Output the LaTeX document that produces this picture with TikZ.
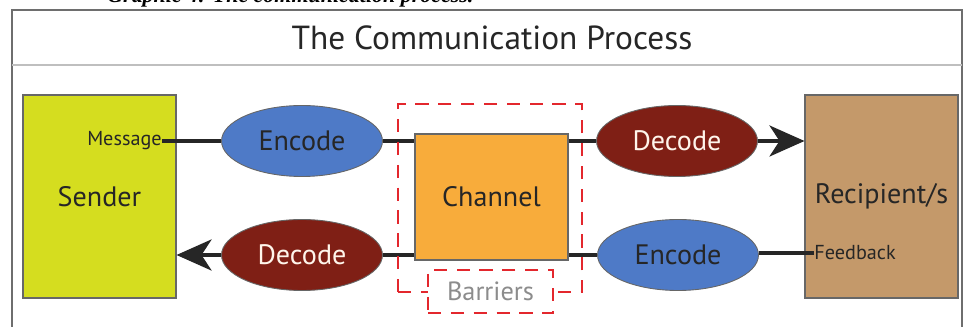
\documentclass[tikz,border=0pt]{standalone}
\usepackage{fontspec}
\setmainfont{PT Sans}
\newfontfamily\capfont{Liberation Serif}
\usepackage{tikz}
\usetikzlibrary{arrows.meta}
\usetikzlibrary{positioning}
\usetikzlibrary{shapes.geometric}
\definecolor{sendercol}{HTML}{D5DD1F}
\definecolor{recipcol}{HTML}{C4996A}
\definecolor{chancol}{HTML}{F8AC3B}
\definecolor{enccol}{HTML}{4E7AC7}
\definecolor{deccol}{HTML}{7F1F15}
\definecolor{barcol}{HTML}{E3272D}
\definecolor{inkcol}{HTML}{262626}
\definecolor{framecol}{HTML}{6E6E6E}
\tikzstyle{every node}+=[inner sep=0pt]
\tikzstyle{box} = [rectangle, draw=inkcol!70, line width=0.6pt, text=inkcol, font=\fontsize{16}{18}\selectfont, minimum width=3.06cm]
\tikzstyle{oval} = [ellipse, draw=black!60, line width=0.5pt, font=\fontsize{16}{18}\selectfont, minimum width=3.22cm, minimum height=1.42cm]
\tikzstyle{enc} = [oval, fill=enccol, text=inkcol]
\tikzstyle{dec} = [oval, fill=deccol, text=white!92!orange]
\tikzstyle{tag} = [text=inkcol, font=\fontsize{11.5}{13}\selectfont]
\tikzstyle{zone} = [rectangle, draw=barcol, line width=1.6pt, dash pattern=on 7.5pt off 5.5pt]
\tikzstyle{line} = [draw=inkcol, line width=2.3pt]
\tikzstyle{arrowline} = [line, -{Stealth[length=0.7cm, width=0.62cm, inset=0.2cm]}]

\begin{document}
\begin{tikzpicture}[x=0.02cm, y=-0.02cm]
  \useasboundingbox (0,0) rectangle (964,327);
  % Frame and heading
  \node [anchor=base west, font=\capfont\bfseries\itshape\fontsize{12.5}{14}\selectfont] (caption) at (107,3) {Graphic 4: The communication process.};
  \draw [framecol, line width=1pt] (12,340) -- (12,10) -- (962,10) -- (962,340);
  \draw [black!25, line width=1.2pt] (12,65) -- (962,65);
  \node [text=inkcol, font=\fontsize{19}{22}\selectfont] (title) at (492,38) {The Communication Process};
  % Place nodes
  \node [box, fill=sendercol, minimum height=4.06cm] (sender) at (99.5,196.5) {Sender};
  \node [box, fill=recipcol, minimum height=4.06cm] (recip) at (881.5,196.5) {Recipient/s};
  \node [box, fill=chancol, minimum height=2.52cm] (chan) at (491.5,197) {Channel};
  \node [enc] (enc1) at (302,141) {Encode};
  \node [dec] (dec1) at (677,141) {Decode};
  \node [dec] (dec2) at (302,255) {Decode};
  \node [enc] (enc2) at (678,255) {Encode};
  \node [tag, anchor=east] (msg) at (162,141) {Message};
  \node [tag, anchor=west] (fb) at (814,253) {Feedback};
  % Draw edges
  \path [line] (msg.east) -- (enc1.west);
  \path [line] (enc1.east) -- (enc1.east -| chan.west);
  \path [line] (chan.east |- dec1.west) -- (dec1.west);
  \path [arrowline] (dec1.east) -- (dec1.east -| recip.west);
  \path [line] (fb.west) -- (fb.west -| enc2.east);
  \path [line] (enc2.west) -- (enc2.west -| chan.east);
  \path [line] (chan.west |- dec2.east) -- (dec2.east);
  \path [arrowline] (dec2.west) -- (dec2.west -| sender.east);
  % Barriers
  \node [zone, minimum width=3.68cm, minimum height=3.76cm] (zone) at (490,198) {};
  \node [zone, fill=white, minimum width=2.5cm, minimum height=0.86cm, text=black!45, font=\fontsize{15}{17}\selectfont] (barriers) at (490.5,291.5) {Barriers};
\end{tikzpicture}
\end{document}
